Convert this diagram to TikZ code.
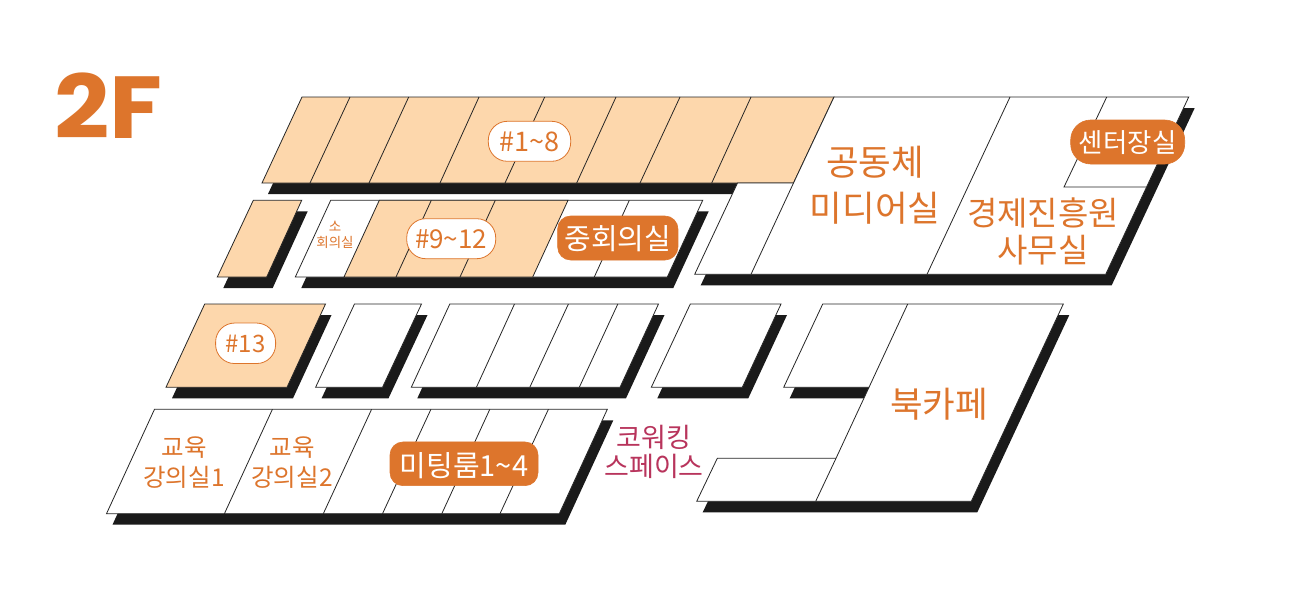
\documentclass[tikz,border=0pt]{standalone}
\usepackage{fontspec}
\setmainfont{Noto Sans CJK KR}
\newfontfamily\headfont{Poppins}
\definecolor{peach}{HTML}{FDD7AC}
\definecolor{accent}{HTML}{DD752C}
\definecolor{crim}{HTML}{B8345C}
\definecolor{dropcol}{HTML}{1A1A1A}
\definecolor{edge}{HTML}{262626}
\newcommand{\fs}[2]{\fontsize{#1}{#2}\selectfont}
\newcommand{\nudge}[2]{\raisebox{-#1}[\height][\depth]{#2}}
\newcommand{\room}[2]{\fill[fill=dropcol,shift={(6,11)}] #2 -- cycle; \draw[edge line,fill=#1] #2 -- cycle;}
\tikzset{
  edge line/.style={draw=edge,line width=0.8pt,line join=miter},
  divider/.style={draw=edge,line width=0.8pt},
  label text/.style={text=accent,inner sep=0pt,align=center},
  pill solid/.style={draw=accent,fill=accent,text=white,rounded corners=#1,inner sep=0pt,line width=0.6pt},
  pill open/.style={draw=accent,fill=white,text=accent,rounded corners=#1,inner sep=0pt,line width=0.8pt},
}
\begin{document}
\begin{tikzpicture}[x=1pt,y=-1pt]
\useasboundingbox (0,0) rectangle (1300,600);
\fill[white] (0,0) rectangle (1300,600);

\node[inner sep=0pt,anchor=base west,text=accent,xscale=1.1,transform shape] (title) at (54,138) {\headfont\bfseries\fs{88}{88}2F};

% top row
\room{peach}{(302,97) -- (834,97) -- (793.5,183) -- (262,183)}
\draw[divider] (350,97)--(310,183) (408.7,97)--(369,183) (479,97)--(440,183) (544.7,97)--(505,183) (616,97)--(576.7,183) (680,97)--(640,183) (751,97)--(711.7,183);
\room{white}{(834,97) -- (1188.7,97) -- (1105.7,274.3) -- (694.7,274.3) -- (737.5,183) -- (793.5,183)}
\draw[divider] (793.5,183)--(751,274.3) (1010,97)--(927,274.3);
\draw[divider] (1106.7,97)--(1064,187)--(1146,187);

% second row
\room{peach}{(253.3,200.3) -- (301.7,200.3) -- (266.7,277) -- (217.3,277)}
\room{white}{(330.7,200.3) -- (702.7,200.3) -- (667.3,277) -- (295.3,277)}
\draw[edge line,fill=peach] (379.3,200.3) -- (568,200.3) -- (532.7,277) -- (344,277) -- cycle;
\draw[divider] (431.3,200.3)--(396,277) (495.3,200.3)--(460,277) (629.3,200.3)--(594.3,277);

% third row
\room{peach}{(204.7,304) -- (325.5,304) -- (287,387.3) -- (166,387.3)}
\room{white}{(354.5,304) -- (421.5,304) -- (382.5,387.3) -- (315.6,387.3)}
\room{white}{(449.8,304) -- (658.5,304) -- (620,387.3) -- (411.3,387.3)}
\draw[divider] (514.5,304)--(476.4,387.3) (568.4,304)--(529.8,387.3) (617.8,304)--(579.3,387.3);
\room{white}{(690.3,304) -- (781,304) -- (742.3,387.3) -- (651.3,387.3)}
\room{white}{(822.7,304) -- (1063.3,304) -- (971.3,501.3) -- (696.7,501.3) -- (717.3,458.3) -- (836,458.3) -- (869,387.3) -- (783.7,387.3)}
\draw[divider] (907.7,304)--(869,387.3) (836,458.3)--(815.7,501.3);

% bottom row
\room{white}{(154.5,409.3) -- (607.3,409.3) -- (559.3,513.7) -- (106.5,513.7)}
\draw[divider] (272.4,409.3)--(224.4,513.7) (371.6,409.3)--(323.3,513.7) (430.9,409.3)--(382.5,513.7) (489.8,409.3)--(441.8,513.7) (548.4,409.3)--(500,513.7);

% open pills
\node[pill open=19pt,minimum width=82.4pt,minimum height=40pt] (p18) at (529.5,141.3) {\fs{27}{30}\nudge{1pt}{\#1\textasciitilde 8}};
\node[pill open=19pt,minimum width=89pt,minimum height=40pt] (p912) at (451.2,238.7) {\fs{26}{30}\nudge{1pt}{\#9\textasciitilde 12}};
\node[pill open=19pt,minimum width=60pt,minimum height=40.5pt] (p13) at (245.6,343.3) {\fs{24}{28}\nudge{1pt}{\#13}};
% solid pills
\node[pill solid=13pt,minimum width=120.3pt,minimum height=44pt] (pmid) at (617.8,238) {\fs{29}{33}\nudge{1pt}{중회의실}};
\node[pill solid=20pt,minimum width=114pt,minimum height=44pt] (pcenter) at (1127.7,142) {\fs{26.5}{30}\nudge{1pt}{센터장실}};
\node[pill solid=13pt,minimum width=148pt,minimum height=43.7pt] (pmeet) at (464,463.8) {\fs{29}{33}\nudge{1.5pt}{미팅룸1\textasciitilde 4}};

% labels
\node[label text,font=\fs{13.5}{16}] (small) at (335,235) {소\\회의실};
\node[label text,font=\fs{35.5}{46}] (media) at (875,185) {공동체\\미디어실};
\node[label text,font=\fs{33}{37}] (office) at (1043,231.5) {경제진흥원\\사무실};
\node[label text,font=\fs{24.5}{30}] (edu1) at (184,463) {교육\\강의실1};
\node[label text,font=\fs{24.5}{30}] (edu2) at (292,463) {교육\\강의실2};
\node[label text,text=crim,font=\fs{27}{29}] (cowork) at (654,452) {코워킹\\스페이스};
\node[label text,font=\fs{35.5}{40}] (cafe) at (939,404) {북카페};
\end{tikzpicture}
\end{document}
